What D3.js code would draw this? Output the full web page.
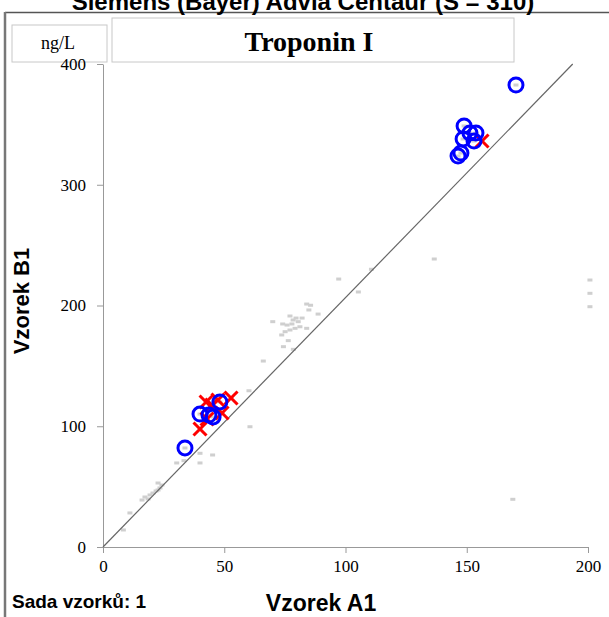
<!DOCTYPE html>
<html>
<head>
<meta charset="utf-8">
<script src="https://cdn.jsdelivr.net/npm/d3@7"></script>
<style>
  html, body { margin: 0; padding: 0; background: #fff; }
  svg { display: block; }
</style>
</head>
<body>
<svg id="chart" width="609" height="617"></svg>
<script>
// ---- data ----
const titleText = "Siemens (Bayer) Advia Centaur (S = 310)";
const analyteText = "Troponin I";
const unitText = "ng/L";
const xTitle = "Vzorek A1";
const yTitle = "Vzorek B1";
const setText = "Sada vzorků: 1";

const xTicks = [0, 50, 100, 150, 200];
const yTicks = [0, 100, 200, 300, 400];

// all participants (grey)
const greyX = [84.0, 84.9, 88.7, 70.0, 74.1, 77.1, 80.5, 81.2, 79.2, 77.1, 75.1, 73.7, 84.0, 76.4, 74.4, 78.5, 85.6, 66.1, 97.2, 105.3, 110.7, 136.6, 200.8, 200.8, 200.8, 169.0, 60.2, 60.6, 40.0, 45.2, 40.0, 30.4, 33.4, 19.4, 20.6, 21.9, 22.7, 23.5, 17.3, 18.6, 16.1, 24.3, 11.1, 8.4, 22.7, 78.4, 79.6, 82.1, 75.9, 77.9, 170.3, 148.9, 151.3, 153.8, 148.5, 153.0, 146.4, 147.6, 156.3, 33.8, 40.0, 43.7, 45.4, 48.2, 40.0, 42.5, 44.9, 47.4, 49.1, 52.8, 42.9];
const greyY = [201.2, 196.3, 192.9, 186.6, 184.7, 191.3, 186.6, 182.4, 181.1, 179.7, 178.3, 175.6, 181.1, 170.9, 165.9, 163.7, 200.2, 154.0, 221.9, 211.2, 230.0, 238.5, 221.1, 210.1, 199.0, 39.5, 129.4, 99.6, 77.6, 76.2, 69.6, 69.6, 71.5, 43.1, 44.7, 46.4, 47.2, 48.9, 41.4, 39.8, 38.9, 51.3, 28.2, 14.1, 53.0, 188.0, 189.6, 189.6, 183.8, 184.7, 382.6, 348.7, 342.9, 342.9, 337.9, 336.2, 323.8, 326.3, 336.2, 82.0, 110.1, 109.3, 107.7, 120.1, 97.7, 120.1, 117.6, 121.7, 111.0, 123.4, 106.0];

// highlighted: blue circles
const blueX = [170.3, 148.9, 151.3, 153.8, 148.5, 153.0, 146.4, 147.6, 33.8, 40.0, 43.7, 45.4, 48.2];
const blueY = [382.6, 348.7, 342.9, 342.9, 337.9, 336.2, 323.8, 326.3, 82.0, 110.1, 109.3, 107.7, 120.1];

// highlighted: red crosses
const redX = [156.3, 40.0, 42.5, 44.9, 47.4, 49.1, 52.8, 42.9];
const redY = [336.2, 97.7, 120.1, 117.6, 121.7, 111.0, 123.4, 106.0];

// reference line
const lineX = [0, 193.7];
const lineY = [0, 400];

// ---- drawing ----
const svg = d3.select("#chart");
const x = d3.scaleLinear().domain([0, 200]).range([103, 588]);
const y = d3.scaleLinear().domain([0, 400]).range([547, 64]);

// frame (top and left border)
svg.append("line").attr("x1", 5).attr("x2", 609).attr("y1", 12.5).attr("y2", 12.5)
  .attr("stroke", "#555").attr("stroke-width", 1.5);
svg.append("line").attr("x1", 5).attr("x2", 5).attr("y1", 12).attr("y2", 617)
  .attr("stroke", "#777").attr("stroke-width", 2.5);

// title (cut off at top, as in the reference)
svg.append("text").attr("x", 303).attr("y", 10).attr("text-anchor", "middle")
  .attr("font-family", "Liberation Sans, Arial, sans-serif").attr("font-weight", "bold")
  .attr("font-size", 24).attr("fill", "#000").text(titleText);

// boxes
svg.append("rect").attr("x", 12).attr("y", 25).attr("width", 95).attr("height", 37)
  .attr("fill", "#fff").attr("stroke", "#c8c8c8").attr("stroke-width", 1);
svg.append("text").attr("x", 58).attr("y", 49).attr("text-anchor", "middle")
  .attr("font-family", "Liberation Serif, Times New Roman, serif")
  .attr("font-size", 18).text(unitText);
svg.append("rect").attr("x", 112).attr("y", 18).attr("width", 402).attr("height", 44)
  .attr("fill", "#fff").attr("stroke", "#c8c8c8").attr("stroke-width", 1);
svg.append("text").attr("x", 309).attr("y", 51).attr("text-anchor", "middle")
  .attr("font-family", "Liberation Serif, Times New Roman, serif").attr("font-weight", "bold")
  .attr("font-size", 28).text(analyteText);

// axes
const xAxis = d3.axisBottom(x).tickValues(xTicks).tickSize(6).tickPadding(7).tickSizeOuter(0);
const yAxis = d3.axisLeft(y).tickValues(yTicks).tickSize(6).tickPadding(11).tickSizeOuter(0);
const gx = svg.append("g").attr("transform", `translate(0,${y(0)})`).call(xAxis);
const gy = svg.append("g").attr("transform", `translate(${x(0)},0)`).call(yAxis);
[gx, gy].forEach(g => {
  g.select(".domain").attr("stroke", "#999");
  g.selectAll(".tick line").attr("stroke", "#999");
  g.selectAll(".tick text").attr("font-family", "Liberation Serif, Times New Roman, serif")
    .attr("font-size", 17).attr("fill", "#000");
});

// grey points
svg.append("g").selectAll("rect").data(greyX.map((d, i) => [d, greyY[i]])).join("rect")
  .attr("x", d => x(d[0]) - 2.5).attr("y", d => y(d[1]) - 1.5)
  .attr("width", 5).attr("height", 3).attr("fill", "#cfcfcf");

// reference line
svg.append("line").attr("x1", x(lineX[0])).attr("y1", y(lineY[0]))
  .attr("x2", x(lineX[1])).attr("y2", y(lineY[1]))
  .attr("stroke", "#666").attr("stroke-width", 1.2);

// red crosses
const s = 6.5;
svg.append("g").selectAll("path").data(redX.map((d, i) => [d, redY[i]])).join("path")
  .attr("d", d => {
    const cx = x(d[0]), cy = y(d[1]);
    return `M${cx - s},${cy - s}L${cx + s},${cy + s}M${cx - s},${cy + s}L${cx + s},${cy - s}`;
  })
  .attr("stroke", "#ff0000").attr("stroke-width", 3).attr("fill", "none");

// blue circles
svg.append("g").selectAll("circle").data(blueX.map((d, i) => [d, blueY[i]])).join("circle")
  .attr("cx", d => x(d[0])).attr("cy", d => y(d[1])).attr("r", 7)
  .attr("fill", "none").attr("stroke", "#0000ff").attr("stroke-width", 3);

// axis titles
svg.append("text").attr("transform", "translate(29,301) rotate(-90)").attr("text-anchor", "middle")
  .attr("font-family", "Liberation Sans, Arial, sans-serif").attr("font-weight", "bold")
  .attr("font-size", 22).text(yTitle);
svg.append("text").attr("x", 321).attr("y", 611).attr("text-anchor", "middle")
  .attr("font-family", "Liberation Sans, Arial, sans-serif").attr("font-weight", "bold")
  .attr("font-size", 23).text(xTitle);
svg.append("text").attr("x", 12).attr("y", 608)
  .attr("font-family", "Liberation Sans, Arial, sans-serif").attr("font-weight", "bold")
  .attr("font-size", 19).text(setText);
</script>
</body>
</html>
